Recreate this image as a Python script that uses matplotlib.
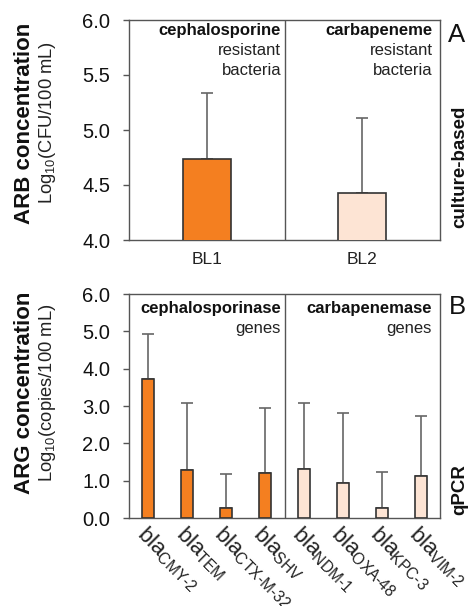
import matplotlib
matplotlib.use("Agg")
import matplotlib.pyplot as plt

plt.rcParams['font.family'] = ['Liberation Sans', 'DejaVu Sans']
plt.rcParams['mathtext.fontset'] = 'custom'
plt.rcParams['mathtext.rm'] = 'Liberation Sans'
plt.rcParams['mathtext.it'] = 'Liberation Sans'
plt.rcParams['mathtext.bf'] = 'Liberation Sans:bold'

# Data
arb_categories = ["BL1", "BL2"]
arb_values = [4.74, 4.43]
arb_upper = [5.34, 5.11]

arg_categories = ["CMY-2", "TEM", "CTX-M-32", "SHV", "NDM-1", "OXA-48", "KPC-3", "VIM-2"]
arg_values = [3.72, 1.28, 0.26, 1.20, 1.31, 0.95, 0.27, 1.13]
arg_upper = [4.92, 3.07, 1.19, 2.95, 3.09, 2.82, 1.23, 2.74]

ORANGE = '#F47F20'
PEACH = '#FDE4D4'
EDGE = '#333333'
GRAY = '#666666'

W, H = 468, 606
fig = plt.figure(figsize=(W / 100, H / 100), dpi=100)

def px_axes(left, top, right, bottom):
    return fig.add_axes([left / W, 1 - bottom / H, (right - left) / W, (bottom - top) / H])

def style(ax):
    for s in ax.spines.values():
        s.set_color('#555555')
        s.set_linewidth(1.0)
    ax.tick_params(axis='y', direction='out', length=4.5, width=1, color='#555555',
                   labelsize=14.5, pad=9, labelcolor='#111111')
    ax.tick_params(axis='x', length=0)

# ---- Panel A ----
axA = px_axes(129, 20, 440, 240)
xa = list(range(len(arb_categories)))
colsA = [ORANGE, PEACH]
axA.bar(xa, arb_values, width=0.31, color=colsA, edgecolor=EDGE, linewidth=1.2, zorder=3)
errA = [[0] * len(arb_values), [u - v for u, v in zip(arb_upper, arb_values)]]
axA.errorbar(xa, arb_values, yerr=errA, fmt='none', ecolor=GRAY, elinewidth=1.2,
             capsize=4, capthick=1.2, zorder=2)
axA.set_xlim(-0.5, 1.5)
axA.set_ylim(4.0, 6.0)
axA.set_yticks([4.0, 4.5, 5.0, 5.5, 6.0])
axA.set_yticklabels(['4.0', '4.5', '5.0', '5.5', '6.0'])
axA.set_xticks(xa)
axA.set_xticklabels(arb_categories, fontsize=12.5, color='#222222')
axA.tick_params(axis='x', pad=9)
axA.axvline(0.5, color='#555555', lw=1.0)
style(axA)

FS_IN = 12
axA.text(0.489, 0.95, 'cephalosporine', transform=axA.transAxes, ha='right', va='center',
         fontsize=FS_IN, fontweight='bold', color='#111111')
axA.text(0.489, 0.86, 'resistant', transform=axA.transAxes, ha='right', va='center',
         fontsize=FS_IN, color='#222222')
axA.text(0.489, 0.77, 'bacteria', transform=axA.transAxes, ha='right', va='center',
         fontsize=FS_IN, color='#222222')
axA.text(0.977, 0.95, 'carbapeneme', transform=axA.transAxes, ha='right', va='center',
         fontsize=FS_IN, fontweight='bold', color='#111111')
axA.text(0.977, 0.86, 'resistant', transform=axA.transAxes, ha='right', va='center',
         fontsize=FS_IN, color='#222222')
axA.text(0.977, 0.77, 'bacteria', transform=axA.transAxes, ha='right', va='center',
         fontsize=FS_IN, color='#222222')

fig.text(25 / W, 1 - 123 / H, 'ARB concentration', rotation=90, ha='center', va='center',
         fontsize=16, fontweight='bold', color='#111111')
fig.text(48 / W, 1 - 123 / H, r'Log$_{10}$(CFU/100 mL)', rotation=90, ha='center', va='center',
         fontsize=13.2, color='#222222')
fig.text(460 / W, 1 - 167 / H, 'culture-based', rotation=90, ha='center', va='center',
         fontsize=13.5, fontweight='bold', color='#111111')
fig.text(457 / W, 1 - 35 / H, 'A', ha='center', va='center', fontsize=18.5, color='#111111')

# ---- Panel B ----
axB = px_axes(129, 294, 440, 518)
xb = list(range(len(arg_categories)))
colsB = [ORANGE] * 4 + [PEACH] * 4
axB.bar(xb, arg_values, width=0.31, color=colsB, edgecolor=EDGE, linewidth=1.2, zorder=3)
errB = [[0] * len(arg_values), [u - v for u, v in zip(arg_upper, arg_values)]]
axB.errorbar(xb, arg_values, yerr=errB, fmt='none', ecolor=GRAY, elinewidth=1.2,
             capsize=4, capthick=1.2, zorder=2)
axB.set_xlim(-0.5, 7.5)
axB.set_ylim(0, 6.0)
axB.set_yticks([0, 1, 2, 3, 4, 5, 6])
axB.set_yticklabels(['0.0', '1.0', '2.0', '3.0', '4.0', '5.0', '6.0'])
axB.set_xticks(xb)
axB.set_xticklabels([r'bla$_{\text{%s}}$' % c for c in arg_categories], fontsize=16,
                    rotation=-45, ha='left', va='top', rotation_mode='anchor', color='#222222')
axB.tick_params(axis='x', pad=3)
axB.axvline(3.5, color='#555555', lw=1.0)
style(axB)

axB.text(0.489, 0.935, 'cephalosporinase', transform=axB.transAxes, ha='right', va='center',
         fontsize=FS_IN, fontweight='bold', color='#111111')
axB.text(0.489, 0.845, 'genes', transform=axB.transAxes, ha='right', va='center',
         fontsize=FS_IN, color='#222222')
axB.text(0.974, 0.935, 'carbapenemase', transform=axB.transAxes, ha='right', va='center',
         fontsize=FS_IN, fontweight='bold', color='#111111')
axB.text(0.974, 0.845, 'genes', transform=axB.transAxes, ha='right', va='center',
         fontsize=FS_IN, color='#222222')

fig.text(25 / W, 1 - 393 / H, 'ARG concentration', rotation=90, ha='center', va='center',
         fontsize=16, fontweight='bold', color='#111111')
fig.text(48 / W, 1 - 393 / H, r'Log$_{10}$(copies/100 mL)', rotation=90, ha='center', va='center',
         fontsize=13.2, color='#222222')
fig.text(460 / W, 1 - 490 / H, 'qPCR', rotation=90, ha='center', va='center',
         fontsize=13.5, fontweight='bold', color='#111111')
fig.text(457 / W, 1 - 307 / H, 'B', ha='center', va='center', fontsize=18.5, color='#111111')

fig.savefig('out.png', dpi=100)
